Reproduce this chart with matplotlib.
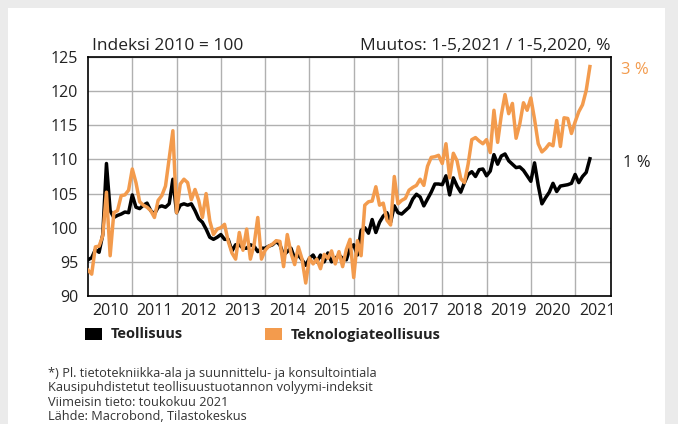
import matplotlib
matplotlib.use("Agg")
import matplotlib.pyplot as plt
from matplotlib.patches import Rectangle
import numpy as np

plt.rcParams['font.family'] = ['Open Sans', 'DejaVu Sans']

# monthly index, 2010 = 100, Jan 2010 .. May 2021
teollisuus = [
    95.3, 95.6, 96.8, 96.4, 99.0, 109.4, 102.5, 101.5, 101.8, 102.0, 102.3, 102.2,   # 2010
    104.8, 103.0, 102.8, 103.3, 103.6, 102.5, 102.0, 103.0, 103.2, 103.0, 103.5, 107.1,  # 2011
    102.2, 103.3, 103.5, 103.3, 103.5, 102.5, 101.3, 100.8, 99.8, 98.6, 98.3, 98.6,  # 2012
    99.0, 98.3, 98.3, 96.6, 97.5, 97.5, 97.0, 97.0, 97.5, 97.3, 96.5, 97.0,          # 2013
    97.0, 97.3, 97.5, 98.0, 97.5, 96.0, 96.5, 97.0, 95.5, 96.0, 95.3, 94.5,          # 2014
    95.5, 96.0, 95.0, 96.0, 95.0, 96.3, 95.0, 95.5, 96.0, 95.5, 95.3, 97.0,          # 2015
    97.5, 96.0, 99.6, 100.0, 99.2, 101.2, 99.3, 100.8, 101.7, 102.2, 100.8, 103.2,   # 2016
    102.2, 102.0, 102.5, 103.0, 104.2, 104.9, 104.5, 103.2, 104.2, 105.2, 106.4, 106.4,  # 2017
    106.3, 107.6, 104.8, 107.3, 106.1, 105.2, 106.6, 107.8, 108.2, 107.5, 108.5, 108.6,  # 2018
    107.6, 108.3, 110.7, 109.3, 110.5, 110.8, 109.8, 109.3, 108.8, 108.9, 108.4, 107.6,  # 2019
    106.8, 109.5, 106.2, 103.5, 104.4, 105.2, 106.5, 105.3, 106.1, 106.2, 106.3, 106.5,  # 2020
    107.8, 106.6, 107.5, 108.1, 110.1,                                                # 2021
]
teknologia = [
    93.8, 93.2, 97.2, 97.3, 98.8, 105.2, 95.9, 102.2, 102.5, 104.7, 104.8, 105.5,    # 2010
    108.6, 106.6, 103.8, 103.3, 103.0, 102.5, 101.5, 104.0, 104.7, 106.1, 110.1, 114.2,  # 2011
    102.2, 106.4, 107.1, 106.6, 104.1, 105.6, 104.0, 101.5, 105.0, 101.0, 99.0, 99.8,  # 2012
    100.0, 100.5, 98.0, 96.3, 95.4, 99.3, 96.7, 99.8, 95.4, 97.5, 101.5, 95.4,       # 2013
    96.7, 97.3, 97.6, 98.1, 98.0, 94.3, 99.0, 96.3, 94.6, 97.2, 95.4, 91.9,          # 2014
    95.6, 94.7, 95.4, 94.0, 96.1, 95.5, 96.6, 94.7, 96.5, 94.3, 96.8, 98.3,          # 2015
    92.7, 98.1, 95.9, 103.3, 103.8, 103.9, 106.0, 103.3, 103.6, 101.1, 100.4, 107.5,  # 2016
    103.5, 104.0, 104.3, 105.5, 105.9, 106.2, 107.1, 106.2, 109.0, 110.3, 110.4, 110.6,  # 2017
    109.4, 112.3, 107.3, 110.9, 109.8, 107.2, 106.6, 109.3, 112.9, 113.2, 112.7, 112.3,  # 2018
    112.9, 111.0, 117.2, 112.5, 116.5, 119.5, 116.7, 118.2, 113.1, 115.2, 118.3, 117.2,  # 2019
    119.0, 115.9, 112.3, 111.1, 111.6, 112.3, 112.0, 115.7, 111.9, 116.1, 116.0, 113.8,  # 2020
    115.5, 117.0, 118.0, 120.1, 123.6,                                                # 2021
]
years = list(range(2010, 2022))
y_ticks = [90, 95, 100, 105, 110, 115, 120, 125]

black = '#000000'
orange = '#F39B4D'
txt = '#222222'

x = 2010 + np.arange(len(teollisuus)) / 12

fig = plt.figure(figsize=(6.78, 4.24), dpi=100)
fig.patch.set_facecolor('#ebebeb')
fig.patches.append(Rectangle((8 / 678, 0), 657 / 678, 416 / 424, transform=fig.transFigure,
                             facecolor='white', edgecolor='none', zorder=-5))

ax = fig.add_axes([88 / 678, 128 / 424, 523 / 678, 239 / 424])
ax.set_zorder(2)
ax.plot(x, teollisuus, color=black, lw=2.5, zorder=3)
ax.plot(x, teknologia, color=orange, lw=2.5, zorder=4)

ax.set_xlim(2010, 2021.81)
ax.set_ylim(90, 125)
ax.set_xticks(years[1:])
ax.set_xticklabels([])
ax.set_xticks([y + 0.5 for y in years], minor=True)
ax.set_xticklabels([str(y) for y in years], minor=True)
ax.set_yticks(y_ticks)
ax.tick_params(axis='both', which='both', length=0, labelsize=11.5, colors=txt)
ax.tick_params(axis='x', which='minor', pad=5)
ax.tick_params(axis='y', pad=7)
ax.grid(True, which='major', color='#b0b0b0', lw=1)
for s in ax.spines.values():
    s.set_color('black')
    s.set_linewidth(1.2)

fig.text(92 / 678, 1 - 46 / 424, 'Indeksi 2010 = 100', fontsize=12.5, color=txt,
         ha='left', va='center')
fig.text(611 / 678, 1 - 46 / 424, 'Muutos: 1-5,2021 / 1-5,2020, %', fontsize=12.5,
         color=txt, ha='right', va='center')
fig.text(621 / 678, 1 - 70 / 424, '3 %', fontsize=12, color=orange, ha='left', va='center')
fig.text(623 / 678, 1 - 163 / 424, '1 %', fontsize=12, color=txt, ha='left', va='center')

# legend
fig.patches.append(Rectangle((85 / 678, 1 - 340 / 424), 17 / 678, 12 / 424,
                             transform=fig.transFigure, facecolor=black, edgecolor='none'))
fig.text(111 / 678, 1 - 334.5 / 424, 'Teollisuus', fontsize=10.5, fontweight='bold',
         color=txt, ha='left', va='center')
fig.patches.append(Rectangle((264.5 / 678, 1 - 340 / 424), 17 / 678, 12 / 424,
                             transform=fig.transFigure, facecolor=orange, edgecolor='none'))
fig.text(291 / 678, 1 - 334.5 / 424, 'Teknologiateollisuus', fontsize=10.5, fontweight='bold',
         color=txt, ha='left', va='center')

notes = ['*) Pl. tietotekniikka-ala ja suunnittelu- ja konsultointiala',
         'Kausipuhdistetut teollisuustuotannon volyymi-indeksit',
         'Viimeisin tieto: toukokuu 2021',
         'Lähde: Macrobond, Tilastokeskus']
for i, t in enumerate(notes):
    fig.text(48 / 678, 1 - (374 + i * 14.0) / 424, t, fontsize=9.2, color='#333333',
             ha='left', va='center')

fig.savefig('out.png', dpi=100, facecolor=fig.get_facecolor())
